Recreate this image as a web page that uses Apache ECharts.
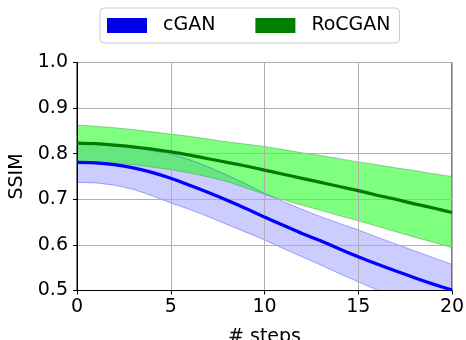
<!DOCTYPE html>
<html>
<head>
<meta charset="utf-8">
<script src="https://cdn.jsdelivr.net/npm/echarts@6/dist/echarts.min.js"></script>
<style>
html, body { margin: 0; padding: 0; background: #fff; }
#chart { width: 466px; height: 340px; }
</style>
</head>
<body>
<div id="chart"></div>
<script>
var steps = ['0', '1', '2', '3', '4', '5', '6', '7', '8', '9', '10', '11', '12', '13', '14', '15', '16', '17', '18', '19', '20'];

// cGAN mean and band
var cganMean  = [0.781, 0.780, 0.776, 0.769, 0.759, 0.746, 0.731, 0.715, 0.698, 0.680, 0.661, 0.643, 0.625, 0.609, 0.591, 0.574, 0.558, 0.543, 0.528, 0.514, 0.501];
var cganUpper = [0.822, 0.821, 0.818, 0.813, 0.807, 0.799, 0.787, 0.771, 0.753, 0.734, 0.713, 0.695, 0.678, 0.662, 0.647, 0.633, 0.617, 0.602, 0.587, 0.572, 0.557];
var cganLower = [0.737, 0.736, 0.731, 0.722, 0.708, 0.692, 0.678, 0.662, 0.645, 0.628, 0.611, 0.592, 0.574, 0.556, 0.537, 0.519, 0.501, 0.484, 0.468, 0.452, 0.437];

// RoCGAN mean and band
var rocganMean  = [0.823, 0.822, 0.819, 0.815, 0.810, 0.804, 0.797, 0.789, 0.781, 0.773, 0.764, 0.755, 0.746, 0.737, 0.728, 0.719, 0.709, 0.700, 0.690, 0.681, 0.671];
var rocganUpper = [0.863, 0.860, 0.857, 0.853, 0.848, 0.843, 0.838, 0.832, 0.826, 0.821, 0.816, 0.809, 0.802, 0.796, 0.789, 0.782, 0.776, 0.769, 0.763, 0.756, 0.750];
var rocganLower = [0.782, 0.781, 0.779, 0.776, 0.771, 0.765, 0.758, 0.749, 0.739, 0.725, 0.711, 0.699, 0.687, 0.676, 0.664, 0.653, 0.641, 0.629, 0.617, 0.606, 0.594];

var yTicks = [0.5, 0.6, 0.7, 0.8, 0.9, 1.0];

function diffs(up, lo) {
    var out = [];
    for (var i = 0; i < up.length; i++) out.push(+(up[i] - lo[i]).toFixed(4));
    return out;
}
// show a tick / label / grid line every 5 steps
function every5(idx) { return idx % 5 === 0; }

var font = 'DejaVu Sans';
var myChart = echarts.init(document.getElementById('chart'));
var option = {
    animation: false,
    textStyle: { fontFamily: font },
    legend: {
        data: [
            { name: 'cGAN', itemStyle: { color: '#0000e8' } },
            { name: 'RoCGAN', itemStyle: { color: '#008000' } }
        ],
        left: 100,
        top: 8,
        icon: 'rect',
        itemWidth: 40,
        itemHeight: 15,
        itemGap: 40,
        padding: [8, 9, 8, 7],
        borderColor: '#cccccc',
        borderWidth: 1,
        borderRadius: 4,
        textStyle: { fontSize: 19, color: '#000', fontFamily: font, padding: [0, 0, 0, 11] }
    },
    grid: {
        left: 77,
        right: 14,
        top: 62.5,
        bottom: 49.5,
        outerBoundsMode: 'none',
        show: true,
        borderColor: '#000',
        borderWidth: 1,
        backgroundColor: 'transparent'
    },
    xAxis: {
        type: 'category',
        data: steps,
        boundaryGap: false,
        z: 1.5,
        name: '# steps',
        nameLocation: 'middle',
        nameGap: 37,
        nameTextStyle: { fontSize: 19, color: '#000', fontFamily: font },
        axisLine: { lineStyle: { color: '#000', width: 1 } },
        axisTick: { show: true, length: 4, interval: every5, lineStyle: { color: '#000' } },
        axisLabel: { fontSize: 19, color: '#000', margin: 7, fontFamily: font, interval: every5 },
        splitLine: { show: true, interval: every5, lineStyle: { color: '#b0b0b0', width: 1 } }
    },
    yAxis: {
        type: 'value',
        min: 0.5,
        max: 1.0,
        interval: 0.1,
        z: 1.5,
        name: 'SSIM',
        nameLocation: 'middle',
        nameGap: 49,
        nameTextStyle: { fontSize: 19, color: '#000', fontFamily: font },
        axisLine: { show: true, lineStyle: { color: '#000', width: 1 } },
        axisTick: { show: true, length: 4, lineStyle: { color: '#000' } },
        axisLabel: {
            fontSize: 19, color: '#000', margin: 9, fontFamily: font,
            formatter: function (v) {
                for (var i = 0; i < yTicks.length; i++) {
                    if (Math.abs(v - yTicks[i]) < 1e-6) return yTicks[i].toFixed(1);
                }
                return '';
            }
        },
        splitLine: { show: true, lineStyle: { color: '#b0b0b0', width: 1 } }
    },
    series: [
        {
            name: 'cGAN-lo', type: 'line', stack: 'b', z: 1, symbol: 'none', silent: true,
            data: cganLower,
            lineStyle: { color: 'rgba(0,0,255,0.4)', width: 0.8 }
        },
        {
            name: 'cGAN-band', type: 'line', stack: 'b', z: 1, symbol: 'none', silent: true,
            data: diffs(cganUpper, cganLower),
            lineStyle: { color: 'rgba(0,0,255,0.4)', width: 0.8 },
            areaStyle: { color: 'rgba(0,0,255,0.2)', opacity: 1 }
        },
        {
            name: 'RoCGAN-lo', type: 'line', stack: 'g', z: 1, symbol: 'none', silent: true,
            data: rocganLower,
            lineStyle: { color: 'rgba(60,130,60,0.5)', width: 0.8 }
        },
        {
            name: 'RoCGAN-band', type: 'line', stack: 'g', z: 1, symbol: 'none', silent: true,
            data: diffs(rocganUpper, rocganLower),
            lineStyle: { color: 'rgba(60,130,60,0.5)', width: 0.8 },
            areaStyle: { color: 'rgba(0,255,0,0.5)', opacity: 1 }
        },
        {
            name: 'cGAN', type: 'line', z: 3, symbol: 'none', smooth: 0.2,
            data: cganMean,
            itemStyle: { color: '#0000e8' },
            lineStyle: { color: '#0000ff', width: 3.2 }
        },
        {
            name: 'RoCGAN', type: 'line', z: 3, symbol: 'none', smooth: 0.2,
            data: rocganMean,
            itemStyle: { color: '#008000' },
            lineStyle: { color: '#007a00', width: 3.2 }
        }
    ]
};
myChart.setOption(option);
</script>
</body>
</html>
